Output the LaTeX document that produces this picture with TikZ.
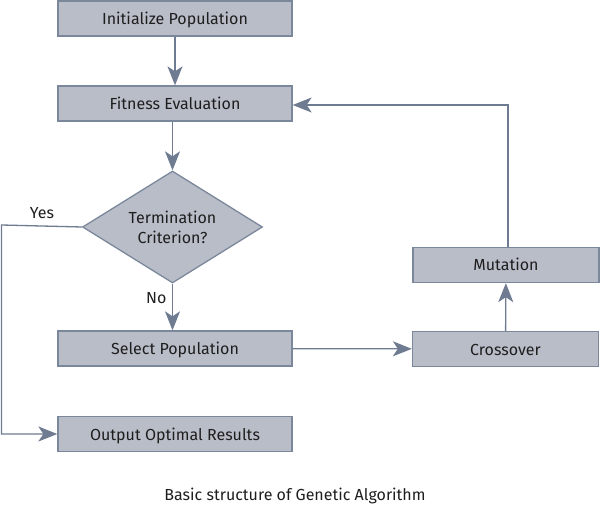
\documentclass[tikz,border=0pt]{standalone}
\usepackage{fontspec}
\setmainfont{Fira Sans}
\usetikzlibrary{shapes.geometric,arrows.meta}
\definecolor{boxfill}{HTML}{B9BDC8}
\definecolor{boxline}{HTML}{7B879B}
\definecolor{flowline}{HTML}{6E7B91}
\definecolor{labeltext}{HTML}{1E1E1E}
\tikzset{
  procbox/.style={draw=boxline, fill=boxfill, line width=1.3pt, minimum width=234pt,
    minimum height=35pt, inner sep=0pt, text=labeltext, text height=12pt, text depth=0pt,
    font=\fontsize{16}{18}\selectfont},
  sidebox/.style={procbox, minimum width=186pt},
  decision/.style={diamond, draw=boxline, fill=boxfill, line width=1.3pt, aspect=1.6,
    minimum width=180pt, minimum height=112pt, inner sep=0pt, align=center,
    text=labeltext, font=\fontsize{16}{20}\selectfont},
  flow/.style={draw=flowline, line width=1.3pt, -{Stealth[length=19pt,width=15pt,inset=5pt]}},
  flowlabel/.style={text=labeltext, font=\fontsize{16}{18}\selectfont}
}
\begin{document}
\begin{tikzpicture}[x=1pt,y=-1pt]
  \useasboundingbox (0,0) rectangle (600,513);

  % Main column
  \node [procbox] (init) at (175,18.5) {Initialize Population};
  \node [procbox] (fit) at (175,103.5) {Fitness Evaluation};
  \node [decision] (term) at (172.5,227) {Termination\\Criterion?};
  \node [procbox] (select) at (175,348.5) {Select Population};
  \node [procbox] (out) at (175,434) {Output Optimal Results};

  % Right column
  \node [sidebox] (cross) at (505.5,349) {Crossover};
  \node [sidebox] (mut) at (506,265) {Mutation};

  % Caption
  \node [flowlabel] (caption) at (295,496) {Basic structure of Genetic Algorithm};

  % Connectors
  \draw [flow] (init) -- (fit);
  \draw [flow] (fit.south -| term.north) -- (term);
  \draw [flow] (term) -- node [flowlabel, pos=0.3, left=2pt] (no) {No} (select.north -| term.south);
  \draw [flow] (select) -- (cross);
  \draw [flow] (cross) -- (mut);
  \coordinate (back) at (508,105);
  \draw [flow] (mut.north -| back) -- (back) -- (fit.east |- back);
  \coordinate (yesturn) at (1.5,225);
  \draw [flow] (term.west) -- (yesturn) -- (yesturn |- out.west) -- (out.west);
  \node [flowlabel] (yes) at (42,213) {Yes};
\end{tikzpicture}
\end{document}
